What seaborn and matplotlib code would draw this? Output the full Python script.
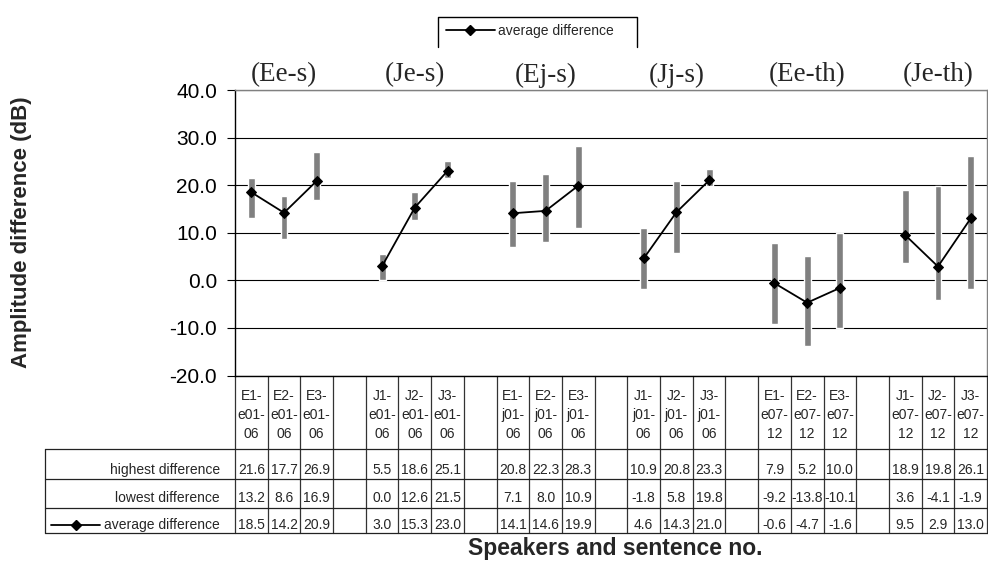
import numpy as np
import pandas as pd
import matplotlib.pyplot as plt
import seaborn as sns
from matplotlib.lines import Line2D
from matplotlib.ticker import FormatStrFormatter
from matplotlib.transforms import blended_transform_factory

# ---- data ----
groups = ['(Ee-s)', '(Je-s)', '(Ej-s)', '(Jj-s)', '(Ee-th)', '(Je-th)']
speakers = ['E1', 'E2', 'E3', 'J1', 'J2', 'J3',
            'E1', 'E2', 'E3', 'J1', 'J2', 'J3',
            'E1', 'E2', 'E3', 'J1', 'J2', 'J3']
sentences = ['e01-06'] * 6 + ['j01-06'] * 6 + ['e07-12'] * 6
highest = [21.6, 17.7, 26.9, 5.5, 18.6, 25.1, 20.8, 22.3, 28.3,
           10.9, 20.8, 23.3, 7.9, 5.2, 10.0, 18.9, 19.8, 26.1]
lowest = [13.2, 8.6, 16.9, 0.0, 12.6, 21.5, 7.1, 8.0, 10.9,
          -1.8, 5.8, 19.8, -9.2, -13.8, -10.1, 3.6, -4.1, -1.9]
average = [18.5, 14.2, 20.9, 3.0, 15.3, 23.0, 14.1, 14.6, 19.9,
           4.6, 14.3, 21.0, -0.6, -4.7, -1.6, 9.5, 2.9, 13.0]
row_names = ['highest difference', 'lowest difference', 'average difference']

# one empty slot between each group of three speakers
n_slots = len(groups) * 4 - 1
df = pd.DataFrame({
    'group': np.repeat(groups, 3),
    'pos': [g * 4 + i for g in range(len(groups)) for i in range(3)],
    'label': [f'{s}-\n{t[:4]}\n{t[4:]}' for s, t in zip(speakers, sentences)],
    'highest': highest,
    'lowest': lowest,
    'average': average,
})

# ---- style ----
sns.set_theme(style='white')
plt.rcParams['font.family'] = ['Liberation Sans', 'DejaVu Sans']

W, H = 988, 562
fig = plt.figure(figsize=(W / 100, H / 100), dpi=100)
ax = fig.add_axes([235 / W, 1 - 375.5 / H, 752 / W, (375.5 - 90) / H])

def fy(py):
    return 1 - py / H

# high-low bars
ax.bar(df['pos'], df['highest'] - df['lowest'], bottom=df['lowest'],
       width=0.21, color='#808080', zorder=2)

# average line, broken between groups
sns.lineplot(data=df, x='pos', y='average', units='group', estimator=None,
             color='black', marker='D', markersize=5.5, markeredgecolor='black',
             linewidth=1.3, legend=False, ax=ax, zorder=3)

ax.set_xlim(-0.5, n_slots - 0.5)
ax.set_ylim(-20, 40)
ax.set_yticks(range(-20, 41, 10))
ax.yaxis.set_major_formatter(FormatStrFormatter('%.1f'))
ax.set_xticks([])
ax.yaxis.grid(True, color='black', linewidth=0.8)
ax.set_axisbelow(True)
ax.tick_params(axis='y', left=True, direction='out', length=6, width=0.8,
               color='black', pad=7, labelsize=15, labelcolor='black')
ax.set_xlabel('')
ax.set_ylabel('')
for side in ['left', 'bottom']:
    ax.spines[side].set_color('black')
    ax.spines[side].set_linewidth(1)
for side in ['top', 'right']:
    ax.spines[side].set_color('#808080')
    ax.spines[side].set_linewidth(1)

blend = blended_transform_factory(ax.transData, fig.transFigure)

# group titles
for g, name in enumerate(groups):
    ax.text(g * 4 + 1, fy(75), name, transform=blend, ha='center', va='center',
            fontsize=19.5, family=['Liberation Serif', 'DejaVu Serif'])

# ---- data table under the plot ----
bounds = np.arange(-0.5, n_slots, 1.0)
line_kw = dict(transform=blend, color='#333333', linewidth=0.9, clip_on=False)
for b in bounds:
    ax.plot([b, b], [fy(375.5), fy(533)], **line_kw)
for py in [449, 479, 508, 533]:
    fig.add_artist(Line2D([45 / W, 988 / W], [fy(py), fy(py)],
                          color='#222222', linewidth=0.9))
fig.add_artist(Line2D([45 / W, 45 / W], [fy(449), fy(533)],
                      color='#222222', linewidth=0.9))

for _, r in df.iterrows():
    ax.text(r['pos'], fy(415), r['label'], transform=blend, ha='center',
            va='center', fontsize=10, linespacing=1.45)

row_y = [470, 497.5, 525]
for name, col, py in zip(row_names, ['highest', 'lowest', 'average'], row_y):
    fig.text(220 / W, fy(py), name, ha='right', va='center', fontsize=10)
    for _, r in df.iterrows():
        ax.text(r['pos'], fy(py), f"{r[col]:.1f}", transform=blend,
                ha='center', va='center', fontsize=10)

# legend key inside the table
fig.add_artist(Line2D([51 / W, 100 / W], [fy(525), fy(525)],
                      color='black', linewidth=1.3))
fig.add_artist(Line2D([75.5 / W], [fy(525)], marker='D', markersize=5.5,
                      color='black', linestyle='none'))

# legend at the top
handle = Line2D([0], [0], color='black', marker='D', markersize=5.5, linewidth=1.3)
fig.legend([handle], ['average difference'], loc='center left',
           bbox_to_anchor=(446 / W, fy(31)), frameon=False, fontsize=10,
           handlelength=3.5, handletextpad=0.25, borderpad=0, borderaxespad=0)
fig.add_artist(Line2D([438 / W, 438 / W, 637 / W, 637 / W],
                      [fy(47), fy(17), fy(17), fy(47)],
                      color='black', linewidth=1))

# axis titles
fig.text(22 / W, fy(232.5), 'Amplitude difference (dB)', rotation=90,
         ha='center', va='center', fontsize=16, fontweight='bold')
fig.text(615 / W, fy(549), 'Speakers and sentence no.', ha='center',
         va='center', fontsize=16.5, fontweight='bold')

fig.savefig('out.png', dpi=100)
